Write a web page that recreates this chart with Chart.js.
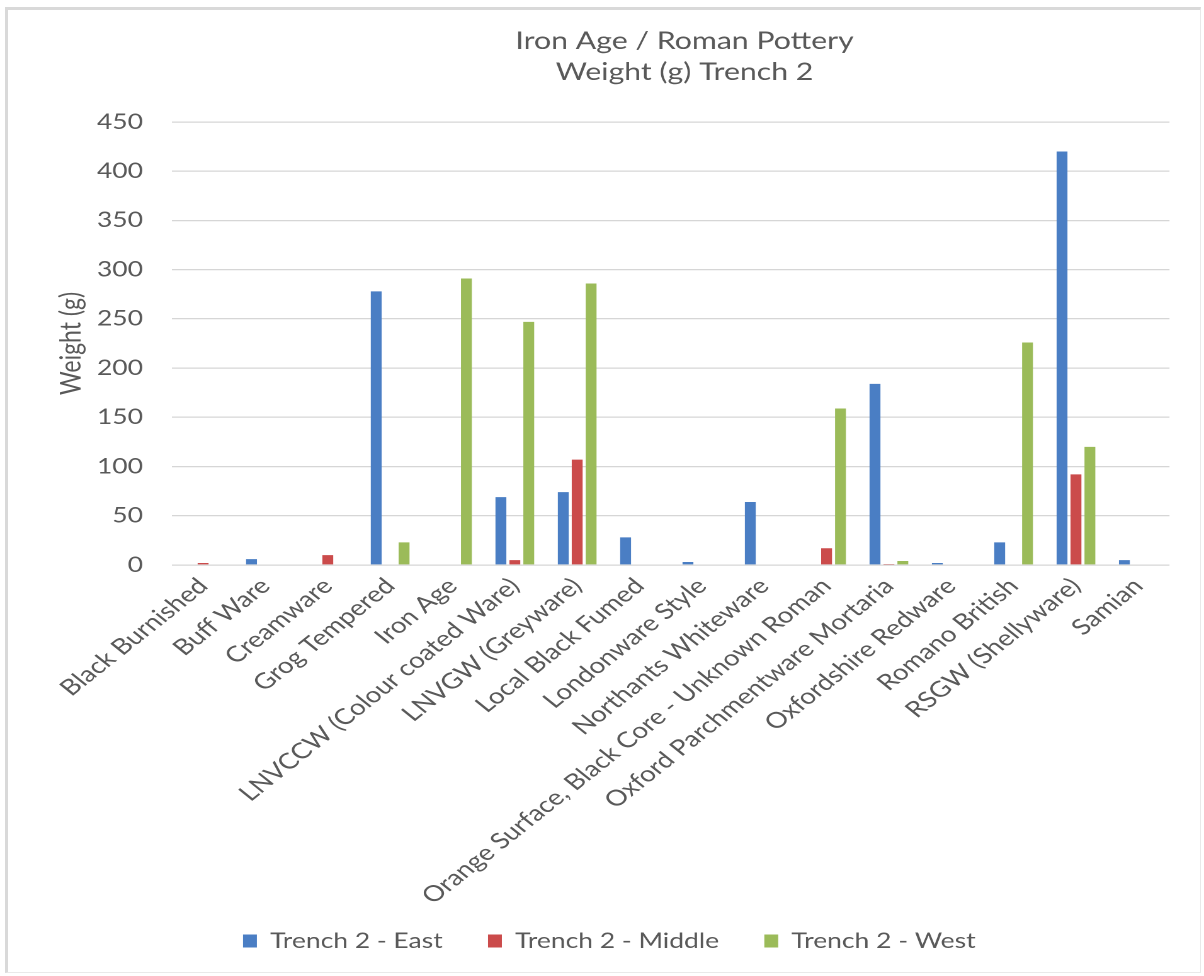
<!DOCTYPE html>
<html>
<head>
<meta charset="utf-8">
<title>Iron Age / Roman Pottery – Weight (g) Trench 2</title>
<script src="https://cdn.jsdelivr.net/npm/chart.js@4/dist/chart.umd.min.js"></script>
<style>
  html, body { margin: 0; padding: 0; background: #ffffff; }
  #frame {
    position: absolute; left: 5px; top: 7px; width: 1196px; height: 966px;
    box-sizing: border-box;
    border-top: 3px solid #d9d9d9; border-left: 3px solid #d9d9d9;
    border-right: 1px solid #e9e9e9; border-bottom: 1px solid #e9e9e9;
  }
  /* the chart is laid out on a narrower canvas and widened to the page */
  #wrap {
    position: absolute; left: 0; top: 0; width: 956px; height: 976px;
    transform: scaleX(1.2594); transform-origin: 0 0;
  }
</style>
</head>
<body>
<div id="frame"></div>
<div id="wrap"><canvas id="chart"></canvas></div>
<script>
// Pottery categories (x axis)
const categories = [
  'Black Burnished',
  'Buff Ware',
  'Creamware',
  'Grog Tempered',
  'Iron Age',
  'LNVCCW (Colour coated Ware)',
  'LNVGW (Greyware)',
  'Local Black Fumed',
  'Londonware Style',
  'Northants Whiteware',
  'Orange Surface, Black Core - Unknown Roman',
  'Oxford Parchmentware Mortaria',
  'Oxfordshire Redware',
  'Romano British',
  'RSGW (Shellyware)',
  'Samian'
];

// Weight in grams per trench section
const eastWeights   = [0, 6, 0, 278, 0, 69, 74, 28, 3, 64, 0, 184, 2, 23, 420, 5];
const middleWeights = [2, 0, 10, 0, 0, 5, 107, 0, 0, 0, 17, 1, 0, 0, 92, 0];
const westWeights   = [0, 0, 0, 23, 291, 247, 286, 0, 0, 0, 159, 4, 0, 226, 120, 0];

const seriesNames = ['Trench 2 - East', 'Trench 2 - Middle', 'Trench 2 - West'];
const seriesColors = ['#4A7EC4', '#CB4B4B', '#9BBB59'];

// y axis range and step
const yMin = 0;
const yMax = 450;
const yStep = 50;

const textColor = '#595959';
const fontFamily = 'Lato, "Open Sans", "Liberation Sans", sans-serif';

// nudges the two-line title to the right of the plot centre, and lets the
// long rotated category names run down past the legend's top edge
const layoutTweaks = {
  id: 'layoutTweaks',
  afterLayout(chart) {
    const t = chart.titleBlock;
    if (t) { t.left += 11; t.right += 11; }
    chart.scales.x.bottom = chart.height;
  }
};

const values = [eastWeights, middleWeights, westWeights];

new Chart(document.getElementById('chart'), {
  type: 'bar',
  data: {
    labels: categories,
    datasets: seriesNames.map((name, i) => ({
      label: name,
      data: values[i],
      backgroundColor: seriesColors[i],
      borderWidth: 0,
      categoryPercentage: 0.67,
      barPercentage: 0.78
    }))
  },
  plugins: [layoutTweaks],
  options: {
    responsive: true,
    maintainAspectRatio: false,
    animation: false,
    devicePixelRatio: 2,
    layout: { padding: { top: 10, bottom: 14.5, left: 39, right: 27.4 } },
    plugins: {
      title: {
        display: true,
        text: ['Iron Age / Roman Pottery', 'Weight (g) Trench 2'],
        color: textColor,
        fullSize: false,
        font: { family: fontFamily, size: 24, weight: 'normal', lineHeight: 1.3 },
        padding: { top: 15.5, bottom: 34.1 }
      },
      legend: {
        position: 'bottom',
        labels: {
          color: textColor,
          font: { family: fontFamily, size: 21 },
          boxWidth: 11,
          boxHeight: 13,
          padding: 36
        }
      },
      tooltip: { enabled: false }
    },
    scales: {
      x: {
        grid: { display: false, drawTicks: false },
        border: { display: false },
        ticks: {
          color: textColor,
          font: { family: fontFamily, size: 22 },
          minRotation: 45,
          maxRotation: 45,
          autoSkip: false,
          padding: 8
        },
        afterFit(scale) { scale.height = 329.5; }
      },
      y: {
        min: yMin,
        max: yMax,
        grid: { color: '#d6d6d6', lineWidth: 1.3, drawTicks: false },
        border: { display: false },
        ticks: {
          stepSize: yStep,
          color: textColor,
          font: { family: fontFamily, size: 21 },
          padding: 23
        },
        title: {
          display: true,
          text: 'Weight (g)',
          color: textColor,
          font: { family: fontFamily, size: 23 },
          padding: { top: 4, bottom: 4 }
        },
        afterFit(scale) { scale.width = 97.5; }
      }
    }
  }
});
</script>
</body>
</html>
